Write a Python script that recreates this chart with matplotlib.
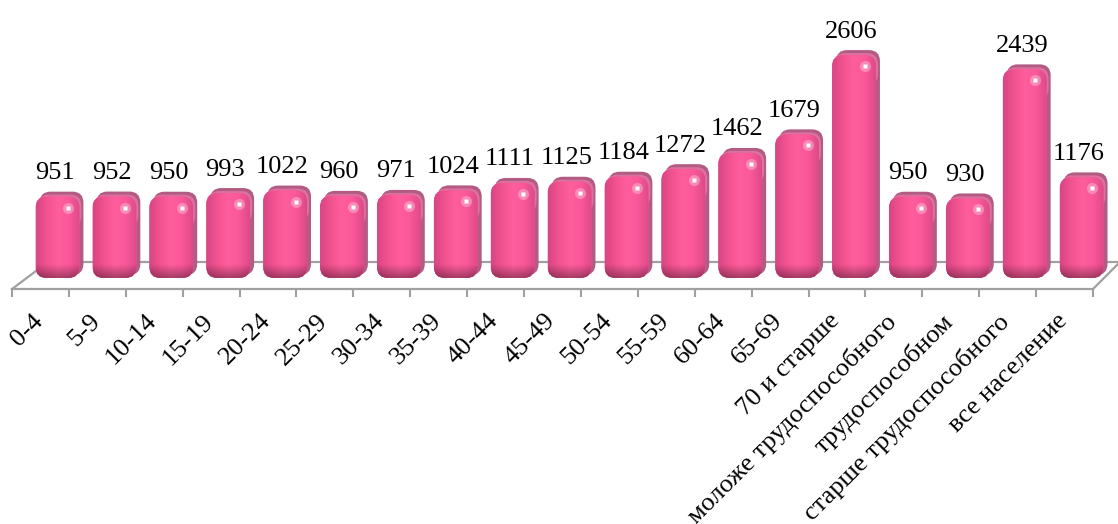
import numpy as np
import matplotlib.pyplot as plt
import matplotlib.transforms as mtransforms
from matplotlib.patches import FancyBboxPatch
from matplotlib.colors import LinearSegmentedColormap

# data
categories = ['0-4', '5-9', '10-14', '15-19', '20-24', '25-29', '30-34', '35-39',
              '40-44', '45-49', '50-54', '55-59', '60-64', '65-69', '70 и старше',
              'моложе трудоспособного', 'трудоспособном', 'старше трудоспособного',
              'все население']
values = [951, 952, 950, 993, 1022, 960, 971, 1024, 1111, 1125, 1184, 1272,
          1462, 1679, 2606, 950, 930, 2439, 1176]

plt.rcParams['font.family'] = ['Liberation Serif', 'DejaVu Serif']

W, H = 1118, 524
fig = plt.figure(figsize=(W / 100, H / 100), dpi=100)
ax = fig.add_axes([12 / W, 235 / H, 1081 / W, 267.6 / H])
ymin, ymax = -129, 3000
ax.set_xlim(-0.5, 18.5)
ax.set_ylim(ymin, ymax)

# pixel sizes in data units
px_x = 1.0 / (1081 / 19)
px_y = (ymax - ymin) / 267.6
asp = px_y / px_x

grid_col = '#A0A0A0'
pink = '#F8579A'
side_col = '#B25C84'

# floor of the 3d chart
back_y = ymin + 27 * px_y
back_x0 = -0.5 + 36 * px_x
back_x1 = 18.5 + 27 * px_x
ax.plot([-0.5, back_x0], [ymin, back_y], color=grid_col, lw=1.6, clip_on=False, zorder=1)
ax.plot([back_x0, back_x1], [back_y, back_y], color=grid_col, lw=1.6, clip_on=False, zorder=1)
ax.plot([18.5, back_x1], [ymin, back_y], color=grid_col, lw=1.6, clip_on=False, zorder=1)

x = np.arange(len(categories))
shift = 0.30
bars = ax.bar(x + shift, values, width=0.77, color='none', edgecolor='none')

cmap = LinearSegmentedColormap.from_list('cyl', ['#D84684', '#F2538F', '#FF5E9D',
                                                 '#FA5899', '#DE4A88'])
grad = np.linspace(0, 1, 64).reshape(1, -1)
shade = np.zeros((32, 1, 4))
shade[:, 0, 3] = np.linspace(0.35, 0, 32)
r = 11 * px_x

for rect in bars:
    x0, w, h = rect.get_x(), rect.get_width(), rect.get_height()
    side = FancyBboxPatch((x0 + 4 * px_x, 3 * px_y), w, h + 2 * px_y,
                          boxstyle=f'round,pad=0,rounding_size={r}',
                          mutation_aspect=asp, fc=side_col, ec='none', zorder=2,
                          clip_on=False)
    ax.add_patch(side)
    top = FancyBboxPatch((x0 + 2 * px_x, h - 30 * px_y), w, 32 * px_y,
                         boxstyle=f'round,pad=0,rounding_size={r}',
                         mutation_aspect=asp, fc='#D9729E', ec='none', zorder=2.5,
                         clip_on=False)
    ax.add_patch(top)
    front = FancyBboxPatch((x0, 0), w, h,
                           boxstyle=f'round,pad=0,rounding_size={r}',
                           mutation_aspect=asp, fc=pink, ec='none', zorder=3,
                           clip_on=False)
    ax.add_patch(front)
    im = ax.imshow(grad, cmap=cmap, extent=[x0, x0 + w, 0, h], aspect='auto',
                   zorder=3.5, interpolation='bicubic')
    im.set_clip_box(fig.bbox)
    im.set_clip_path(front)
    # darker band along the bottom
    bot = ax.imshow(shade, extent=[x0, x0 + w, 0, 14 * px_y], aspect='auto',
                    zorder=3.6, origin='lower', interpolation='bilinear')
    bot.set_clip_box(fig.bbox)
    bot.set_clip_path(front)
    # glossy spot
    ax.plot(x0 + 0.74 * w, h - 11 * px_y, 'o', ms=8, color='white', alpha=0.3,
            mec='none', zorder=4, clip_on=False)
    ax.plot(x0 + 0.74 * w, h - 11 * px_y, 's', ms=3.5, color='white', mec='none',
            zorder=4, clip_on=False)

ax.set_xlim(-0.5, 18.5)
ax.set_ylim(ymin, ymax)

for xi, v in zip(x, values):
    ax.annotate(str(v), (xi + shift, v), xytext=(-2, 9), textcoords='offset points',
                ha='center', va='bottom', fontsize=19, color='black')

ax.set_xticks(x)
ax.set_xticklabels(categories, rotation=45, ha='right', fontsize=19)
ax.set_xticks(np.arange(-0.5, 19), minor=True)
ax.tick_params(axis='x', which='major', length=0, pad=15)
ax.tick_params(axis='x', which='minor', length=6, width=1.5, color=grid_col)
offset = mtransforms.ScaledTranslation(7 / 100, 0, fig.dpi_scale_trans)
for lab in ax.get_xticklabels():
    lab.set_transform(lab.get_transform() + offset)
ax.set_yticks([])
for s in ['top', 'left', 'right']:
    ax.spines[s].set_visible(False)
ax.spines['bottom'].set_color(grid_col)
ax.spines['bottom'].set_linewidth(1.6)
ax.patch.set_alpha(0)

fig.savefig('out.png', dpi=100)
